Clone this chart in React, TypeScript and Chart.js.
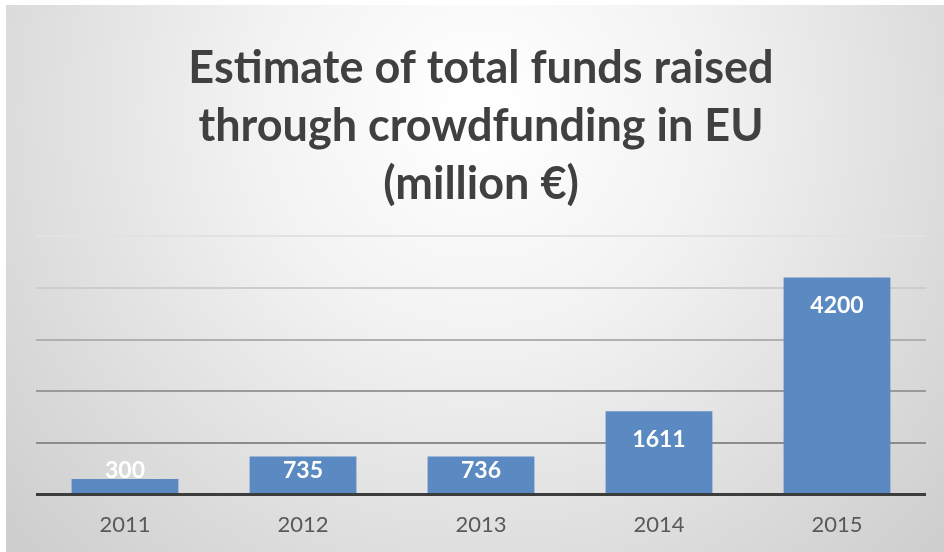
import React, { useEffect, useRef } from "react";
import { Chart, registerables } from "chart.js";

Chart.register(...registerables);

const categories = ["2011", "2012", "2013", "2014", "2015"];
const fundsRaised = [300, 735, 736, 1611, 4200];
const titleLines = ["Estimate of total funds raised", "through crowdfunding in EU", "(million €)"];
const yMax = 5000;
const yStep = 1000;

const gridColors: Record<number, string> = {
  0: "#3c3c3c",
  1000: "#8c8c8c",
  2000: "#9a9a9a",
  3000: "#b0b0b0",
  4000: "#cdcdcd",
  5000: "#e2e2e2",
};

const backgroundPlugin = {
  id: "bgPlugin",
  beforeDraw(chart: any) {
    const { ctx, width, height } = chart;
    ctx.save();
    ctx.fillStyle = "#ffffff";
    ctx.fillRect(0, 0, width, height);
    const g = ctx.createRadialGradient(480, 110, 20, 480, 110, 620);
    g.addColorStop(0, "#ffffff");
    g.addColorStop(0.35, "#f2f2f2");
    g.addColorStop(0.75, "#dcdcdc");
    g.addColorStop(1, "#cfcfcf");
    ctx.fillStyle = g;
    ctx.fillRect(6, 5, width - 6, height - 5);
    ctx.restore();
  },
};

const labelPlugin = {
  id: "valueLabels",
  afterDatasetsDraw(chart: any) {
    const { ctx } = chart;
    const meta = chart.getDatasetMeta(0);
    const base = chart.scales.y.getPixelForValue(0);
    ctx.save();
    ctx.font = "bold 23px Lato";
    ctx.fillStyle = "#ffffff";
    ctx.textAlign = "center";
    ctx.textBaseline = "middle";
    meta.data.forEach((bar: any, i: number) => {
      const y = Math.min(bar.y + 28, base - 24);
      ctx.fillText(String(chart.data.datasets[0].data[i]), bar.x, y);
    });
    ctx.restore();
  },
};

export default function App() {
  const ref = useRef<HTMLCanvasElement>(null);
  useEffect(() => {
    document.body.style.margin = "0";
    const chart = new Chart(ref.current!, {
      type: "bar",
      data: {
        labels: categories,
        datasets: [
          {
            data: fundsRaised,
            backgroundColor: "#5b89c1",
            barPercentage: 0.6,
            categoryPercentage: 1,
          },
        ],
      },
      options: {
        responsive: false,
        animation: false,
        devicePixelRatio: 1,
        layout: { padding: { left: 36, right: 18, top: 39, bottom: 5 } },
        plugins: {
          legend: { display: false },
          tooltip: { enabled: false },
          title: {
            display: true,
            text: titleLines,
            color: "#404040",
            font: { family: "Lato", size: 45, weight: "bold", lineHeight: 1.29 },
            padding: { top: 0, bottom: 23 },
          },
        },
        scales: {
          x: {
            grid: { display: false },
            border: { display: false },
            ticks: {
              color: "#595959",
              font: { family: "Lato", size: 22 },
              padding: 9,
            },
          },
          y: {
            min: 0,
            max: yMax,
            ticks: { display: false, stepSize: yStep },
            border: { display: false },
            grid: {
              drawTicks: false,
              color: (c: any) => gridColors[c.tick?.value] ?? "#bbbbbb",
              lineWidth: (c: any) => (c.tick?.value === 0 ? 3 : 2),
            },
          },
        },
      },
      plugins: [backgroundPlugin, labelPlugin],
    });
    return () => chart.destroy();
  }, []);
  return (
    <div style={{ position: "absolute", left: 0, top: 0, width: 944, height: 552 }}>
      <canvas ref={ref} width={944} height={552} />
    </div>
  );
}
